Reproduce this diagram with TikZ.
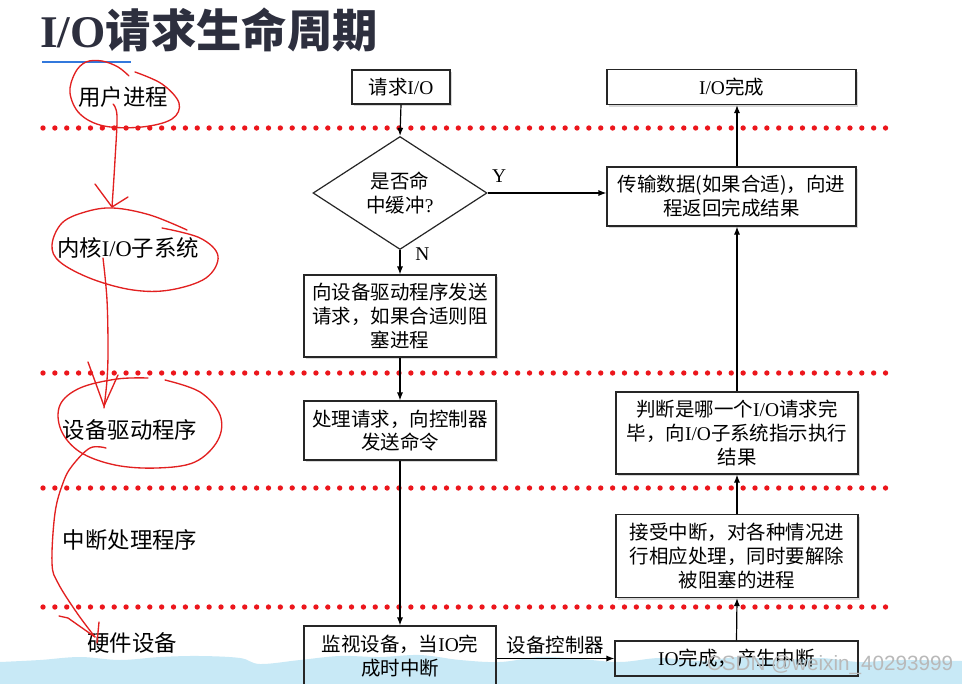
\documentclass[tikz,border=0pt]{standalone}
\usepackage{fontspec}
\setmainfont{Noto Sans CJK SC}
\newfontfamily\lat{Liberation Serif}
\newfontfamily\wmfont{Liberation Sans}
\usetikzlibrary{shapes.geometric,arrows.meta,shadows}
\definecolor{dotred}{RGB}{236,22,28}
\definecolor{pen}{RGB}{226,32,32}
\definecolor{wave}{RGB}{200,233,246}
\definecolor{titlec}{RGB}{45,47,62}
\definecolor{ublue}{RGB}{50,120,220}
\begin{document}
\begin{tikzpicture}[x=0.75pt,y=-0.75pt,
  boxtext/.style={font=\fontsize{14.6}{17.8}\selectfont},
  box/.style={boxtext, draw=black!85, line width=0.9pt, fill=white, align=center, inner sep=0pt,
    drop shadow={shadow xshift=1.6pt, shadow yshift=-1.6pt, opacity=0.3}},
  openbox/.style={boxtext, draw=black!85, line width=0.9pt, align=center, inner sep=0pt},
  decision/.style={boxtext, diamond, draw=black!85, line width=0.9pt, fill=white, align=center, inner sep=0pt},
  layer/.style={font=\fontsize{16.8}{20}\selectfont, inner sep=0pt},
  flow/.style={line width=0.9pt, -{Latex[length=6pt,width=4.6pt]}},
  dotline/.style={dotred, line width=4pt, line cap=round, dash pattern=on 0pt off 8.9pt},
  penline/.style={pen, line width=1pt, line cap=round, line join=round},
  tag/.style={font=\lat\fontsize{14.6}{17}\selectfont, inner sep=0pt}
]
\useasboundingbox (0,0) rectangle (962,684);
\fill[white] (0,0) rectangle (962,684);

% bottom wave
\fill[wave] plot[smooth, tension=0.6] coordinates {(0,662) (40,660) (80,657) (120,660) (160,657) (200,656) (240,658) (260,664) (300,660) (340,656) (380,657) (420,655) (460,660) (500,662) (540,657) (580,659) (620,662) (660,658) (700,661) (740,657) (780,660) (820,658) (860,662) (900,660) (962,661)} -- (962,684) -- (0,684) -- cycle;

% title
\node[anchor=west, inner sep=0pt, text=titlec, font=\fontsize{34}{40}\selectfont\bfseries] (title) at (40,30) {{\lat\bfseries I/O}请求生命周期};
\draw[ublue, line width=1.5pt] (42,62) -- (131,62);

% dotted separators
\foreach \yy in {128,373,488,607} \draw[dotline] (43,\yy) -- (888,\yy);

% layer labels
\node[layer] (l1) at (123,97) {用户进程};
\node[layer] (l2) at (128,248) {内核{\lat I/O}子系统};
\node[layer] (l3) at (130,430) {设备驱动程序};
\node[layer] (l4) at (130,540) {中断处理程序};
\node[layer] (l5) at (132,643) {硬件设备};

% boxes
\node[box, minimum width=98*0.75pt, minimum height=34*0.75pt] (req) at (401,87) {请求{\lat I/O}};
\node[box, minimum width=249*0.75pt, minimum height=35*0.75pt] (done) at (731.5,87) {{\lat I/O}完成};
\node[decision, minimum width=174*0.75pt, minimum height=113*0.75pt] (dia) at (400,193) {是否命\\中缓冲{\lat ?}};
\node[box, minimum width=249*0.75pt, minimum height=59*0.75pt] (trans) at (731.5,196.5) {传输数据(如果合适)，向进\\程返回完成结果};
\node[box, minimum width=192*0.75pt, minimum height=82*0.75pt] (send) at (400,316) {向设备驱动程序发送\\请求，如果合适则阻\\塞进程};
\node[box, minimum width=192*0.75pt, minimum height=59*0.75pt] (proc) at (400,430.5) {处理请求，向控制器\\发送命令};
\node[box, minimum width=242*0.75pt, minimum height=82*0.75pt] (judge) at (737,433) {判断是哪一个{\lat I/O}请求完\\毕，向{\lat I/O}子系统指示执行\\结果};
\node[box, minimum width=242*0.75pt, minimum height=83*0.75pt] (intr) at (737,556) {接受中断，对各种情况进\\行相应处理，同时要解除\\被阻塞的进程};
\node[openbox, minimum width=192*0.75pt, minimum height=60*0.75pt] (mon) at (400,656) {监视设备，当{\lat IO}完\\成时中断};
\node[openbox, minimum width=243*0.75pt, minimum height=35*0.75pt] (ioc) at (736.5,658.5) {{\lat IO}完成，产生中断};

% connectors
\draw[flow] (req.south) -- (dia.north);
\draw[flow] (dia.east) -- node[tag, pos=0, anchor=south west, xshift=3pt, yshift=7.5pt] {Y} (trans.west |- dia.east);
\draw[flow] (dia.south) -- node[tag, pos=0.15, anchor=west, xshift=11pt] {N} (send.north);
\draw[flow] (send.south) -- (proc.north);
\draw[flow] (proc.south) -- (mon.north);
\draw[flow] (mon.east |- ioc.west) -- node[boxtext, above=3pt, inner sep=0pt] {设备控制器} (ioc.west);
\draw[flow] (ioc.north) -- (intr.south);
\draw[flow] (intr.north) -- (judge.south);
\draw[flow] (judge.north) -- (judge.north |- trans.south);
\draw[flow] (trans.north -| judge.north) -- (done.south -| judge.north);

% handwritten annotations
\draw[penline] plot[smooth, tension=0.6] coordinates {(135,72) (162,84) (179,103) (172,119) (142,127) (104,126) (80,114) (70,93) (75,73) (86,62) (102,61) (118,67) (129,76)};
\draw[penline] plot[smooth, tension=0.6] coordinates {(113,104) (117,116) (115,160) (112,207)};
\draw[penline] (95,184) -- (112,207) -- (128,197);

\draw[penline] plot[smooth, tension=0.6] coordinates {(162,228) (200,238) (218,256) (206,278) (170,290) (133,290) (92,279) (60,262) (52,245) (62,223) (85,212) (113,208) (150,215) (187,230)};
\draw[penline] plot[smooth, tension=0.6] coordinates {(103,258) (107,300) (108,350) (107,380) (104,408)};
\draw[penline] (88,362) -- (104,406) -- (118,375);

\draw[penline] plot[smooth, tension=0.6] coordinates {(165,380) (200,392) (220,415) (218,440) (195,462) (157,468) (115,465) (80,452) (61,430) (60,405) (80,388) (117,379) (148,378)};
\draw[penline] plot[smooth, tension=0.6] coordinates {(106,448) (90,448) (72,466) (63,483) (55,513) (52,563) (58,583) (77,613) (95,637)};
\draw[penline] (59,616) -- (68,618) -- (95,637);
\draw[penline] (99,622) -- (97,643);

% watermark
\node[font=\wmfont\fontsize{15.5}{18}\selectfont, text=gray!55, inner sep=0pt] (wm) at (830,665) {CSDN @weixin\_40293999};
\end{tikzpicture}
\end{document}
